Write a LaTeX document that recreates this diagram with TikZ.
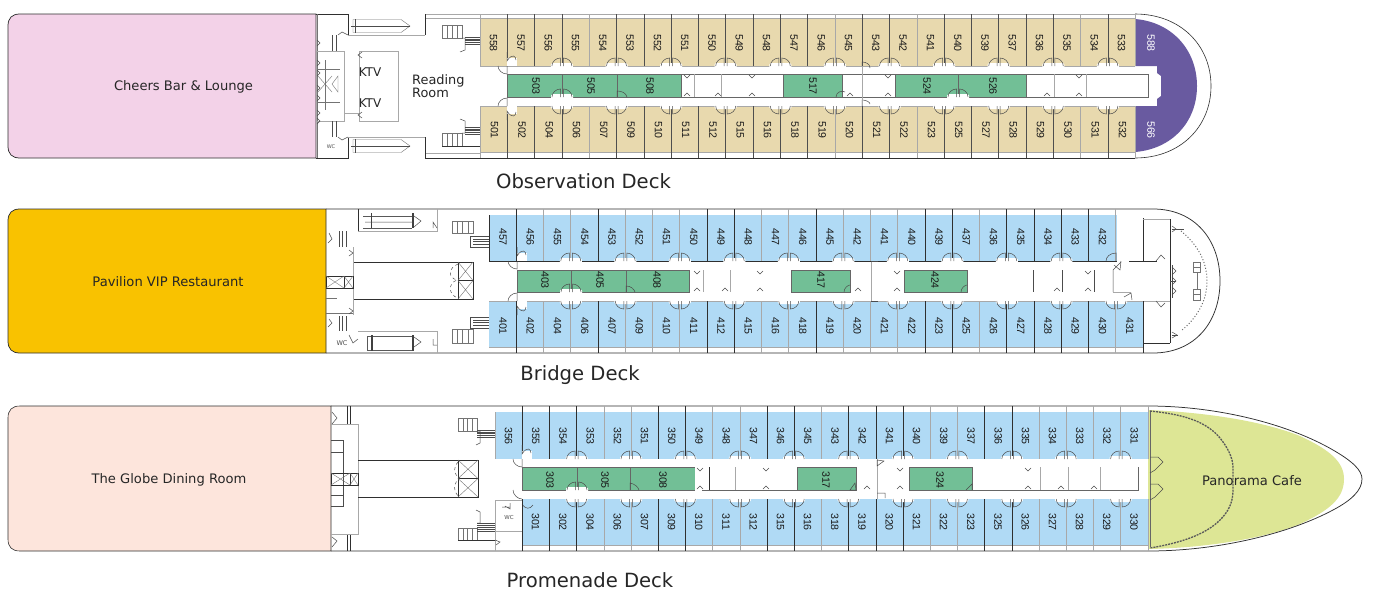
\documentclass[tikz,border=0pt]{standalone}
\usepackage{fontspec}
\setmainfont{DejaVu Sans}
\newfontfamily\numfont{Liberation Sans}
\definecolor{tan}{HTML}{E8D9AE}
\definecolor{sky}{HTML}{B0DAF5}
\definecolor{suite}{HTML}{72BF96}
\definecolor{royal}{HTML}{695AA0}
\definecolor{pinkroom}{HTML}{F3D2E8}
\definecolor{orangeroom}{HTML}{F9C200}
\definecolor{salmonroom}{HTML}{FDE5DC}
\definecolor{cafe}{HTML}{DDE695}
\definecolor{wall}{HTML}{2F2F2F}
\definecolor{lwall}{HTML}{A8A8A8}
\tikzset{
 room/.style={font=\numfont\fontsize{10.6}{12}\selectfont,rotate=-90,text=black!90,inner sep=0pt},
 venue/.style={font=\fontsize{13.1}{15}\selectfont,text=black!85,inner sep=0pt},
 title/.style={font=\fontsize{19.6}{22}\selectfont,text=black!85,inner sep=0pt},
 dark/.style={draw=wall,line width=.75pt},
 light/.style={draw=lwall,line width=.6pt},
 door/.style={draw=black!70,line width=.5pt},
 hairline/.style={draw=black!55,line width=.4pt}
}
% double door on a wall, s=-1 swings up, s=1 swings down
\newcommand{\DoorPair}[3]{%
 \fill[white,rounded corners=1.5pt] (#1-11,#2+#3*3) rectangle (#1+11,#2-#3*3);
 \draw[door] (#1-10,#2) .. controls (#1-10,#2+#3*4.4) and (#1-6,#2+#3*8) .. (#1-1.5,#2+#3*8) -- (#1-1.5,#2);
 \draw[door] (#1+10,#2) .. controls (#1+10,#2+#3*4.4) and (#1+6,#2+#3*8) .. (#1+1.5,#2+#3*8) -- (#1+1.5,#2);
}
% corridor end door
\newcommand{\EndDoor}[3]{%
 \fill[white] (#1,#2) rectangle (#1+10,#2-#3*8);
 \draw[door] (#1,#2-#3*14) -- (#1,#2-#3*5) .. controls (#1+5,#2-#3*13) and (#1+9,#2-#3*10) .. (#1+9,#2-#3*6);
 \draw[door] (#1,#2) -- (#1,#2+#3*8) .. controls (#1-5,#2+#3*8) and (#1-9,#2+#3*4) .. (#1-9,#2);
}
\newcommand{\Tick}[3]{\draw[door] (#1-3,#2) -- (#1,#2+#3*3) -- (#1+3,#2);}
\newcommand{\Treads}[5]{% x1 y1 x2 y2 vertical treads
 \draw[hairline] (#1,#2) rectangle (#3,#4);
 \foreach \k in {1,...,#5} \draw[hairline] ({#1+(#3-#1)*\k/(#5+1)},#2) -- ({#1+(#3-#1)*\k/(#5+1)},#4);
}
\newcommand{\Flight}[4]{% horizontal treads
 \foreach \k in {0,...,4} \draw[black!70,line width=.4pt] (#1,{#2+(#4-#2)*\k/4}) -- (#3,{#2+(#4-#2)*\k/4});
}
\newcommand{\CrossBox}[4]{%
 \draw[dark,line width=.6pt] (#1,#2) rectangle (#3,#4);
 \draw[hairline] (#1,#2) -- (#3,#4) (#1,#4) -- (#3,#2);
}
\begin{document}
\begin{tikzpicture}[x=1pt,y=-1pt]
\useasboundingbox (0,0) rectangle (1374,598);
\fill[white] (0,0) rectangle (1374,598);

%%%%%%%%%%%%%%%% OBSERVATION DECK
\draw[fill=pinkroom,dark] (316,14) -- (20,14) .. controls (12,14) and (8,18) .. (8,26) -- (8,146) .. controls (8,154) and (12,158) .. (20,158) -- (316,158) -- cycle;
\fill[tan] (480,19) rectangle (1135,66);
\fill[tan] (480,106) rectangle (1135,152);
\fill[royal] (1135,19) .. controls (1172,22) and (1197,50) .. (1197,86) .. controls (1197,122) and (1172,149) .. (1135,152) -- (1135,106) -- (1157,106) -- (1157,99) -- (1161,96) -- (1161,76) -- (1157,73) -- (1157,66) -- (1135,66) -- cycle;
\draw[dark,line width=.6pt] (1135,14) .. controls (1180,14) and (1211,45) .. (1211,86) .. controls (1211,127) and (1180,158) .. (1135,158);
\draw[light] (425,14) -- (1135,14);
\draw[light] (425,18.5) -- (1135,18.5);
\draw[light] (480,152.5) -- (1135,152.5);
\draw[dark] (425,158) -- (1135,158);
\draw[light] (425,153) -- (480,153);
\draw[dark] (316,14) -- (348,14) -- (348,35);
\draw[light] (348,35) -- (425,35);
\draw[dark] (425,35) -- (425,14);
\draw[dark] (316,158) -- (348,158) -- (348,137);
\draw[light] (348,137) -- (425,137);
\draw[dark] (425,137) -- (425,158);
\draw[light] (480,66) -- (1135,66);
\draw[light] (480,106) -- (1135,106);
\foreach \i in {0,...,24}{
 \pgfmathsetmacro\xx{480+27.3*\i}
 \draw[light] (\xx,14) -- (\xx,66);
 \draw[light] (\xx,106) -- (\xx,158);
}
\foreach \i in {1,2,3,5,6,7,8,9,10,11,12,14,15,17,18,19,20,21,23}{
 \pgfmathsetmacro\xx{480+27.3*\i}
 \draw[dark,line width=.6pt,draw=wall!85] (\xx,14) -- (\xx,66);
 \draw[dark,line width=.6pt,draw=wall!85] (\xx,106) -- (\xx,158);
}
\foreach \i in {3,5,...,23}{
 \pgfmathsetmacro\xx{480+27.3*\i}
 \DoorPair{\xx}{66}{-1}
 \DoorPair{\xx}{106}{1}
}
\EndDoor{507}{66}{1}
\EndDoor{507}{106}{-1}
% corridor cabin block
\draw[light,draw=black!60] (507,74) rectangle (1148,97);
\fill[suite] (507,74) rectangle (681,97);
\fill[suite] (783,74) rectangle (842,97);
\fill[suite] (895,74) rectangle (1026,97);
\draw[dark,draw=black!60] (507,74) -- (681,74) (507,97) -- (681,97) (507,74) -- (507,97) (681,74) -- (681,97);
\draw[dark,draw=black!60] (562,74) -- (562,97) (617,74) -- (617,97);
\draw[dark,draw=black!60] (783,74) rectangle (842,97);
\draw[dark,draw=black!60] (895,74) rectangle (1026,97);
\draw[dark,draw=black!60] (958,74) -- (958,97);
\foreach \xx in {721,1054,1086} \draw[light] (\xx,74) -- (\xx,97);
\foreach \xx in {694}{\draw[light] (\xx,74) -- (\xx,97);}
\foreach \xx/\yy in {687/75,752/75,888/75,1079/75}{\Tick{\xx}{\yy}{1}}
\foreach \xx/\yy in {687/96,718/96,752/96,850/96,888/96,1047/96,1079/96}{\Tick{\xx}{\yy}{-1}}
\draw[door] (836,97) .. controls (836,92) and (842,90) .. (845,92);
\draw[door] (617,97) -- (617,91) .. controls (622,91) and (626,93) .. (627,97);
\DoorPair{562}{97}{-1}
\DoorPair{958}{97}{-1}
\draw[door] (862,66) -- (862,62) .. controls (866,62) and (870,64) .. (870,68);
\draw[door] (862,106) -- (862,100) .. controls (866,100) and (870,102) .. (870,104);
\draw[light] (862,66) -- (862,106);
% stern side
\draw[hairline] (317,14) -- (317,158);
\draw[light] (316,51) rectangle (344,121);
\draw[light] (359,51) rectangle (398,121);
\draw[dark,draw=black!70,line width=.5pt] (332,35) -- (332,51) (336,35) -- (336,51) (332,121) -- (332,137) (336,121) -- (336,137);
\draw[hairline] (325,60) -- (325,110) (318,69) -- (340,69) (318,102) -- (340,102);
\draw[hairline] (318,76) -- (332,92) (318,92) -- (332,76) (332,84) -- (338,76) -- (338,92) -- cycle;
\foreach \yy in {40,60,70,85,95,110,118}{\draw[door] (317,\yy) -- (320,\yy+3) -- (317,\yy+6);}
\foreach \yy in {52,112}{\draw[door] (362,\yy) -- (358,\yy+3) -- (362,\yy+6);}
\draw[light] (344,113) -- (359,113);
\node[inner sep=0pt,font=\fontsize{5}{6}\selectfont,text=black!70] (wc5) at (331,147) {WC};
\draw[door] (338,137) -- (342,140) -- (348,137);
\draw[door] (338,35) -- (342,32) -- (348,35);
\foreach \yy in {26,146}{
 \draw[hairline] (353,\yy-6.5) -- (401,\yy-6.5) -- (410,\yy) -- (401,\yy+6.5) -- (353,\yy+6.5) -- cycle;
 \draw[black!70,line width=.5pt] (351,\yy) -- (410,\yy);
 \draw[black!70,line width=.5pt] (355,\yy-7) -- (355,\yy+7);
}
\Treads{442}{25}{462}{38}{3}
\Flight{465}{37}{480}{44}
\draw[door] (462,38) -- (465,38) -- (465,50) -- (460,52);
\Treads{442}{133}{462}{146}{3}
\draw[black!80,line width=1pt] (442,146) -- (480,146);
\Flight{465}{127}{480}{134}
\draw[door] (462,133) -- (465,133) -- (465,121) -- (460,119);
\node[venue] (cheers) at (183.5,87) {Cheers Bar \& Lounge};
\node[venue,font=\fontsize{12}{13}\selectfont] (ktv1) at (370,72) {KTV};
\node[venue,font=\fontsize{12}{13}\selectfont] (ktv2) at (370,103) {KTV};
\node[venue,font=\fontsize{12.9}{10.6}\selectfont,align=left,anchor=west] (reading) at (412,86) {Reading\\Room};
\foreach \n [count=\c from 0] in {558,557,556,555,554,553,552,551,550,549,548,547,546,545,543,542,541,540,539,537,536,535,534,533}{
 \pgfmathsetmacro\xx{480+27.3*\c+13.6}
 \node[room] (c\n) at (\xx,43) {\n};
}
\foreach \n [count=\c from 0] in {501,502,504,506,507,509,510,511,512,515,516,518,519,520,521,522,523,525,527,528,529,530,531,532}{
 \pgfmathsetmacro\xx{480+27.3*\c+14.6}
 \node[room] (c\n) at (\xx,130) {\n};
}
\node[room,text=white] (c588) at (1151,43) {588};
\node[room,text=white] (c566) at (1151,130) {566};
\foreach \n/\xx in {503/536,505/591,508/650,517/813,524/927,526/993}{
 \node[room] (c\n) at (\xx,86) {\n};
}
\node[title] (deck5) at (583.5,181) {Observation Deck};

%%%%%%%%%%%%%%%% BRIDGE DECK
\draw[fill=orangeroom,draw=wall,line width=.75pt] (326,209) -- (20,209) .. controls (12,209) and (8,213) .. (8,221) -- (8,341) .. controls (8,349) and (12,353) .. (20,353) -- (326,353) -- cycle;
\fill[sky] (489,215) rectangle (1117,261);
\fill[sky] (489,301) rectangle (1143,347);
\draw[dark] (326,209) -- (1153,209) .. controls (1195,209) and (1220,240) .. (1220,281) .. controls (1220,322) and (1195,353) .. (1153,353) -- (326,353);
\draw[light] (489,347.5) -- (1143,347.5);
\draw[light] (489,301) -- (1143,301);
\draw[dark,line width=.6pt] (489,261) -- (1117,261);
\draw[dark,line width=.6pt] (489,215) -- (489,261);
\foreach \i in {1,...,23}{
 \pgfmathsetmacro\xx{489+27.25*\i}
 \draw[light] (\xx,209) -- (\xx,261);
 \draw[light] (\xx,301) -- (\xx,353);
}
\draw[light] (1143,301) -- (1143,353);
\foreach \i in {1,4,8,9,12,16,17,19,20,21,22}{
 \pgfmathsetmacro\xx{489+27.25*\i}
 \draw[dark,line width=.6pt] (\xx,209) -- (\xx,261);
 \draw[dark,line width=.6pt] (\xx,301) -- (\xx,353);
}
\foreach \i in {3,5,...,21}{
 \pgfmathsetmacro\xx{489+27.25*\i}
 \DoorPair{\xx}{261}{-1}
 \DoorPair{\xx}{301}{1}
}
\DoorPair{1116}{301}{1}
\draw[door] (1106,261) .. controls (1106,257) and (1110,253) .. (1116,253) -- (1116,261);
\EndDoor{517}{261}{1}
\EndDoor{517}{301}{-1}
\fill[suite] (517,270) rectangle (689,292);
\fill[suite] (791,270) rectangle (850,292);
\fill[suite] (904,270) rectangle (967,292);
\draw[dark,draw=black!60,line width=.5pt] (517,270) rectangle (689,292);
\draw[dark,draw=black!60,line width=.5pt] (571,270) -- (571,292) (626,270) -- (626,292);
\draw[dark,draw=black!60,line width=.5pt] (791,270) rectangle (850,292);
\draw[dark,draw=black!60,line width=.5pt] (904,270) rectangle (967,292);
\draw[light] (703,270) -- (703,292) (730,270) -- (730,292);
\draw[light] (871,261) -- (871,301);
\draw[door] (871,261) -- (878,261) (871,301) -- (878,301);
\draw[dark,line width=.5pt,draw=black!70] (1033,270) -- (1033,292);
\draw[dark,line width=.5pt,draw=black!70] (1062,270) -- (1062,292);
\draw[dark,line width=.5pt,draw=black!70] (1094,270) -- (1094,292);
\draw[dark,line width=.5pt,draw=black!70] (1113,292) -- (1113,270) -- (1121,262);
\draw[light] (1113,292) -- (1131,292);
\foreach \xx/\yy in {697/271,760/271,897/271,1088/271}{\Tick{\xx}{\yy}{1}}
\foreach \xx/\yy in {697/291,725/291,760/291,858/291,897/291,1057/291,1088/291}{\Tick{\xx}{\yy}{-1}}
\draw[door] (844,292) .. controls (844,288) and (848,285) .. (850,285);
\draw[door] (961,292) .. controls (961,288) and (965,285) .. (967,285);
\draw[door] (626,292) -- (626,286) .. controls (631,286) and (634,289) .. (635,292);
\DoorPair{571}{292}{-1}
\draw[door] (1114,265) -- (1120,270) -- (1121,261);
\draw[door] (1124,297) -- (1131,293) -- (1132,300);
% bow structures
\draw[dark,line width=.6pt] (1143,218) -- (1143,261) (1129,261) -- (1157,261);
\draw[light] (1143,219) -- (1170,219);
\draw[dark,line width=.6pt] (1170,219) -- (1170,343);
\draw[light] (1131,301) -- (1170,301);
\draw[dark,line width=.6pt] (1143,301) -- (1143,353);
\draw[dark,line width=.6pt] (1143,343) -- (1170,343);
\draw[black!60,line width=1pt,dotted] (1181,231) .. controls (1198,245) and (1207,262) .. (1207,281) .. controls (1207,300) and (1198,317) .. (1181,331);
\draw[door] (1172,229) -- (1184,229) (1172,335) -- (1178,335);
\draw[hairline] (1193,262) rectangle (1200,272) (1193,289) rectangle (1200,300) (1197,272) -- (1197,289) (1193,267) -- (1200,267) (1193,294) -- (1200,294);
\draw[black!70,line width=.6pt] (1172,265) -- (1172,298) (1170,281) -- (1176,281);
\foreach \yy in {267,277,287}{\draw[door] (1172,\yy) -- (1176,\yy+4) -- (1172,\yy+8);}
\draw[door] (1156,261) -- (1161,255) -- (1165,259);
\draw[door] (1156,301) -- (1161,307) -- (1165,303);
\draw[door] (1172,226) -- (1176,229) -- (1172,232) (1172,332) -- (1177,335) -- (1172,338);
% stern side
\draw[dark,line width=.6pt] (358,209) -- (358,231);
\draw[light] (358,231) -- (437,231) -- (437,209);
\draw[light] (358,331) -- (437,331) -- (437,353);
\draw[dark,line width=.6pt] (353,262) -- (473,262);
\draw[dark,line width=.6pt] (353,299) -- (474,299);
\draw[light] (353,247) -- (353,315);
\CrossBox{458}{262}{473}{280.5}
\CrossBox{458}{280.5}{473}{299}
\draw[door,dashed] (458,264) .. controls (448,268) and (448,278) .. (457,280) .. controls (448,283) and (448,295) .. (458,298);
\CrossBox{326}{276}{344}{288}
\CrossBox{344}{276}{353}{288}
\draw[hairline] (326,298) -- (337,298) (326,313) -- (353,313);
\foreach \xx in {339,342,346}{
 \draw[black!70,line width=.5pt] (\xx,231) -- (\xx,247) (\xx,316) -- (\xx,331);
}
\draw[door] (329,233) -- (332,239) -- (328,243) (329,319) -- (332,323) -- (328,327);
\draw[door] (349,250) -- (353,253) -- (349,256) (349,308) -- (353,311) -- (349,314);
\node[inner sep=0pt,font=\fontsize{6.5}{7}\selectfont,text=black!70] (wc4) at (342,343) {WC};
\draw[door] (349,335) -- (353,343) -- (358,339);
\draw[black!65,line width=.5pt] (363,216.5) -- (412,216.5) (363,228) -- (412,228);
\draw[black!75,line width=1.6pt] (371.5,213) -- (371.5,228) (413,213) -- (413,228);
\draw[door] (365,222) -- (413,222) (414,216) -- (421,221) -- (414,227) (433,228) -- (433,222) -- (437,228);
\draw[black!65,line width=.5pt] (367,336) -- (412,336) (367,350) -- (412,350) (367,336) -- (367,350);
\draw[black!75,line width=1.6pt] (372,335) -- (372,351) (413,335) -- (413,351);
\draw[door] (414,337) -- (421,342) -- (414,347) (433,339) -- (433,345) -- (437,345);
\Treads{452}{221}{473}{233}{3}
\Flight{473}{236}{489}{247}
\draw[door] (473,236) -- (470,236) -- (470,247) -- (473,247);
\Treads{452}{329}{473}{343}{3}
\Flight{473}{317}{489}{328}
\draw[door] (473,317) -- (470,317) -- (470,328) -- (473,328);
\node[venue] (pavilion) at (168,282) {Pavilion VIP Restaurant};
\foreach \n [count=\c from 0] in {457,456,455,454,453,452,451,450,449,448,447,446,445,442,441,440,439,437,436,435,434,433,432}{
 \pgfmathsetmacro\xx{489+27.25*\c+14}
 \node[room] (c\n) at (\xx,237) {\n};
}
\foreach \n [count=\c from 0] in {401,402,404,406,407,409,410,411,412,415,416,418,419,420,421,422,423,425,426,427,428,429,430,431}{
 \pgfmathsetmacro\xx{489+27.25*\c+14}
 \node[room] (c\n) at (\xx,326) {\n};
}
\foreach \n/\xx in {403/545,405/600,408/657,417/821,424/935}{
 \node[room] (c\n) at (\xx,280) {\n};
}
\node[title] (deck4) at (580,375) {Bridge Deck};

%%%%%%%%%%%%%%%% PROMENADE DECK
\draw[fill=salmonroom,draw=wall,line width=.6pt] (331,406) -- (20,406) .. controls (12,406) and (8,410) .. (8,418) -- (8,539) .. controls (8,547) and (12,551) .. (20,551) -- (331,551) -- cycle;
\fill[sky] (495,412) rectangle (1148,459);
\fill[sky] (522,499) rectangle (1148,545);
\fill[cafe] (1148,410) .. controls (1200,412) and (1260,420) .. (1300,436) .. controls (1330,450) and (1344,462) .. (1344,479) .. controls (1344,498) and (1330,510) .. (1300,524) .. controls (1260,540) and (1200,548) .. (1148,549) -- cycle;
\draw[dark] (331,406) -- (1148,406) .. controls (1220,406) and (1290,425) .. (1333,450) .. controls (1352,461) and (1362,470) .. (1362,479) .. controls (1362,490) and (1352,500) .. (1333,510) .. controls (1290,533) and (1220,551) .. (1148,551) -- (331,551);
\draw[light] (495,412) -- (495,459);
\draw[light] (522,545.5) -- (1148,545.5);
\foreach \i in {1,...,24}{
 \pgfmathsetmacro\xx{495+27.2*\i}
 \draw[light] (\xx,406) -- (\xx,459);
}
\foreach \i in {2,...,24}{
 \pgfmathsetmacro\xx{495+27.2*\i}
 \draw[light] (\xx,499) -- (\xx,551);
}
\foreach \i in {1,2,3,6,7,10,11,13,14,15,18,19}{
 \pgfmathsetmacro\xx{495+27.2*\i}
 \draw[dark,line width=.6pt] (\xx,406) -- (\xx,459);
 \draw[dark,line width=.6pt] (\xx,499) -- (\xx,551);
}
\foreach \i in {3,5,...,23}{
 \pgfmathsetmacro\xx{495+27.2*\i}
 \DoorPair{\xx}{459}{-1}
 \DoorPair{\xx}{499}{1}
}
\EndDoor{522}{459}{1}
\draw[door] (522,504) .. controls (526,510) and (530,509) .. (533,505);
\draw[door] (513,490) .. controls (513,495) and (518,499) .. (522,499);
\draw[dark,line width=.5pt,draw=black!60] (522,467) rectangle (1138,490);
\fill[white] (522.4,467.4) rectangle (1137.6,489.6);
\fill[suite] (522,467) rectangle (695,490);
\fill[suite] (797,467) rectangle (856,490);
\fill[suite] (909,467) rectangle (972,490);
\draw[dark,draw=black!60,line width=.5pt] (522,467) rectangle (695,490);
\draw[dark,draw=black!60,line width=.5pt] (577,467) -- (577,490) (630,467) -- (630,490);
\draw[dark,draw=black!60,line width=.5pt] (797,467) rectangle (856,490);
\draw[dark,draw=black!60,line width=.5pt] (909,467) rectangle (972,490);
\fill[white] (695.3,466) rectangle (702,491);
\fill[white] (856.5,466) rectangle (908.5,491);
\draw[dark,line width=.6pt] (709,467) -- (709,490);
\draw[light] (735,467) -- (735,490);
\draw[light] (1040,467) -- (1040,490) (1068,467) -- (1068,490) (1100,467) -- (1100,490);
\foreach \xx/\yy in {700/468,766/468,900/468,1028/468}{\Tick{\xx}{\yy}{1}}
\foreach \xx/\yy in {700/489,766/489,867/489,900/489,1028/489,1061/489,1094/489}{\Tick{\xx}{\yy}{-1}}
\draw[light] (877,459) -- (877,499);
\draw[door] (877,460) -- (877,466) -- (884,461) -- (877,460) (877,493) -- (885,493) -- (885,498);
\draw[door] (850,490) -- (855,483) -- (856,490) -- cycle (966,490) -- (972,484) -- (972,490);
\draw[door] (630,490) -- (630,483) .. controls (635,484) and (638,487) .. (639,490);
\DoorPair{577}{490}{-1}
% bow door marks and dashed arc
\draw[draw=black!60,line width=.5pt] (1150,411) -- (1150,547);
\draw[black!65,line width=1.3pt,dash pattern=on 2pt off 1pt] (1150,411) .. controls (1180,414) and (1205,420) .. (1220,438) .. controls (1228,448) and (1233,458) .. (1233,468) -- (1233,490) .. controls (1233,503) and (1228,512) .. (1220,520) .. controls (1205,535) and (1180,543) .. (1150,548);
\foreach \yy in {456,483}{
 \draw[door] (1150,\yy+1) -- (1158,\yy+1) -- (1163,\yy+6) -- (1155,\yy+14);
 \draw[door] (1150,\yy+17) -- (1155,\yy+14);
}
% stern side
\draw[dark,line width=.6pt] (347,406) -- (347,424) (350,406) -- (350,424) (347,535) -- (347,551) (350,535) -- (350,551);
\draw[light] (331,424) -- (358,424) -- (358,534) -- (331,534);
\draw[dark,line width=.6pt] (358,460) -- (478,460);
\draw[dark,line width=.6pt] (358,497) -- (478,497);
\CrossBox{458}{460}{478}{478.5}
\CrossBox{458}{478.5}{478}{497}
\draw[door,dashed] (458,462) .. controls (453,468) and (453,474) .. (460,478) .. controls (453,483) and (453,491) .. (458,496);
\draw[dark,draw=black!70,line width=.5pt] (331,440) -- (343,440) -- (343,506) -- (331,506) (331,452) -- (343,452) (331,495) -- (343,495);
\CrossBox{331}{473}{350}{485}
\CrossBox{350}{473}{358}{485}
\draw[door] (332,412) -- (337,418) -- (332,424) (332,537) -- (337,541) -- (332,547);
\Treads{458}{418}{477}{431}{3}
\Flight{477}{430}{495}{437}
\draw[door] (477,431) -- (480,431) -- (480,443) -- (476,445);
\Treads{458}{528}{477}{540}{3}
\draw[black!80,line width=.9pt] (458,540) -- (495,540);
\Flight{477}{523}{495}{531}
\draw[door] (477,523) -- (480,523) -- (480,512) -- (476,510);
\draw[light] (495,500) rectangle (522,531);
\draw[light] (495,531) -- (495,551);
\draw[dark,line width=.6pt] (522,499) -- (522,551);
\draw[door] (505,506) -- (510,509) -- (510,503) (502,507) -- (510,507);
\draw[door] (495,540) -- (500,542) -- (496,545);
\node[inner sep=0pt,font=\fontsize{5.5}{6}\selectfont,text=black!70] (wc3) at (509,517) {WC};
\node[venue] (globe) at (169,480) {The Globe Dining Room};
\node[venue] (panorama) at (1252,481) {Panorama Cafe};
\foreach \n [count=\c from 0] in {356,355,354,353,352,351,350,349,348,347,346,345,343,342,341,340,339,337,336,335,334,333,332,331}{
 \pgfmathsetmacro\xx{495+27.2*\c+13.6}
 \node[room] (c\n) at (\xx,436) {\n};
}
\foreach \n [count=\c from 0] in {301,302,304,306,307,309,310,311,312,315,316,318,319,320,321,322,323,325,326,327,328,329,330}{
 \pgfmathsetmacro\xx{522+27.2*\c+13.6}
 \node[room] (c\n) at (\xx,522) {\n};
}
\foreach \n/\xx in {303/550,305/605,308/663,317/826,324/940}{
 \node[room] (c\n) at (\xx,480) {\n};
}
\node[title] (deck3) at (590,580.5) {Promenade Deck};
\end{tikzpicture}
\end{document}
